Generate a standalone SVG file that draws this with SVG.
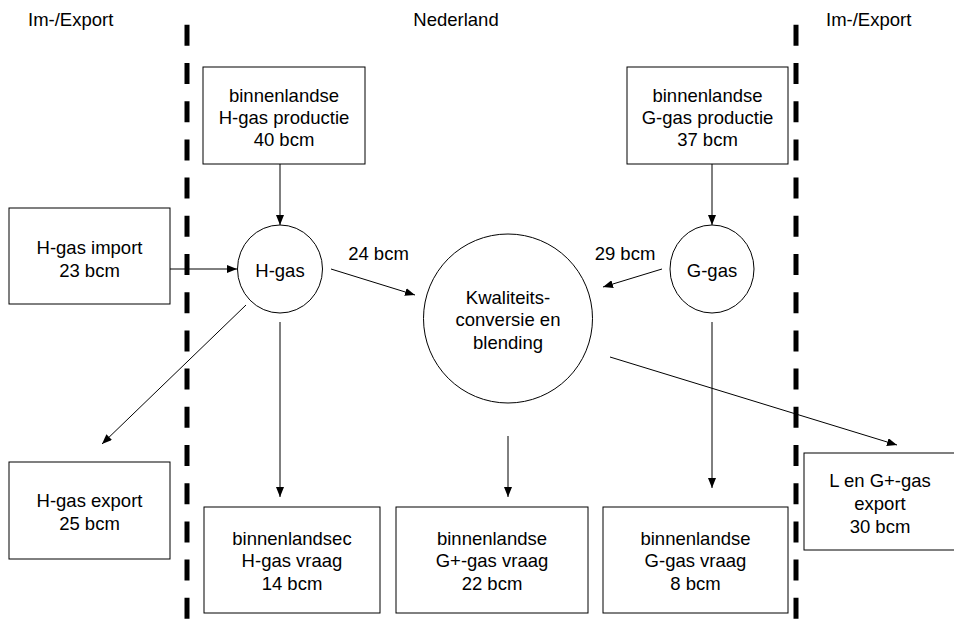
<svg xmlns="http://www.w3.org/2000/svg" width="954" height="636" viewBox="0 0 954 636">
<defs>
<style>
text{font-family:"Liberation Sans",Arial,sans-serif;font-size:18.5px;fill:#000;text-anchor:middle}
.hdr{text-anchor:start}
.box{fill:#fff;stroke:#000;stroke-width:1}
.node{fill:#fff;stroke:#000;stroke-width:1}
.conn{stroke:#000;stroke-width:1;fill:none;marker-end:url(#ah)}
.border{stroke:#000;stroke-width:5;stroke-dasharray:21 17.2;fill:none}
</style>
<marker id="ah" markerWidth="10" markerHeight="8" refX="10" refY="4" orient="auto" markerUnits="userSpaceOnUse">
<path d="M0,0 L10,4 L0,8 Z" fill="#000"/>
</marker>
</defs>
<rect width="954" height="636" fill="#fff"/>
<g id="headers">
<text class="hdr" x="28" y="26">Im-/Export</text>
<text x="456" y="26">Nederland</text>
<text class="hdr" x="826" y="26">Im-/Export</text>
</g>
<g id="borders">
<line class="border" x1="187" y1="24.8" x2="187" y2="621"/>
<line class="border" x1="796" y1="24.8" x2="796" y2="621"/>
</g>
<g id="connectors">
<line class="conn" x1="280" y1="164" x2="280" y2="225"/>
<line class="conn" x1="712" y1="164" x2="712" y2="225"/>
<line class="conn" x1="170" y1="269" x2="237" y2="269"/>
<line class="conn" x1="331" y1="269" x2="415" y2="295"/>
<line class="conn" x1="662" y1="269" x2="603" y2="287"/>
<line class="conn" x1="246" y1="305" x2="102" y2="444"/>
<line class="conn" x1="280" y1="322" x2="280" y2="497"/>
<line class="conn" x1="508" y1="436" x2="508" y2="497"/>
<line class="conn" x1="712" y1="322" x2="712" y2="488"/>
<line class="conn" x1="610" y1="357" x2="897" y2="445"/>
</g>
<g id="labels">
<text x="378.5" y="259.5">24 bcm</text>
<text x="625" y="259.5">29 bcm</text>
</g>
<g id="h-productie">
<rect class="box" x="203" y="67" width="162" height="97"/>
<text x="284" y="101.5">binnenlandse</text>
<text x="284" y="123.5">H-gas productie</text>
<text x="284" y="145.5">40 bcm</text>
</g>
<g id="g-productie">
<rect class="box" x="627" y="67" width="161" height="97"/>
<text x="707.5" y="101.5">binnenlandse</text>
<text x="707.5" y="123.5">G-gas productie</text>
<text x="707.5" y="145.5">37 bcm</text>
</g>
<g id="h-import">
<rect class="box" x="9" y="208" width="161" height="96"/>
<text x="89.5" y="253.5">H-gas import</text>
<text x="89.5" y="276.5">23 bcm</text>
</g>
<g id="h-gas">
<ellipse class="node" cx="280" cy="269" rx="42.5" ry="44"/>
<text x="280" y="276.5">H-gas</text>
</g>
<g id="g-gas">
<ellipse class="node" cx="712" cy="269" rx="42" ry="44"/>
<text x="712" y="276.5">G-gas</text>
</g>
<g id="kwaliteit">
<circle class="node" cx="508" cy="318.5" r="84.5"/>
<text x="508" y="303.5">Kwaliteits-</text>
<text x="508" y="325.5">conversie en</text>
<text x="508" y="348.5">blending</text>
</g>
<g id="h-export">
<rect class="box" x="9" y="462" width="161" height="97"/>
<text x="89.5" y="506.5">H-gas export</text>
<text x="89.5" y="529.5">25 bcm</text>
</g>
<g id="h-vraag">
<rect class="box" x="204" y="507" width="176" height="106"/>
<text x="292" y="544.5">binnenlandsec</text>
<text x="292" y="567">H-gas vraag</text>
<text x="292" y="589.5">14 bcm</text>
</g>
<g id="gplus-vraag">
<rect class="box" x="396" y="507" width="192" height="106"/>
<text x="492" y="544.5">binnenlandse</text>
<text x="492" y="567">G+-gas vraag</text>
<text x="492" y="589.5">22 bcm</text>
</g>
<g id="g-vraag">
<rect class="box" x="603" y="507" width="185" height="106"/>
<text x="695.5" y="544.5">binnenlandse</text>
<text x="695.5" y="567">G-gas vraag</text>
<text x="695.5" y="589.5">8 bcm</text>
</g>
<g id="lg-export">
<rect class="box" x="804" y="453" width="153" height="97"/>
<text x="880" y="486.5">L en G+-gas</text>
<text x="880" y="509.5">export</text>
<text x="880" y="532.5">30 bcm</text>
</g>
</svg>
